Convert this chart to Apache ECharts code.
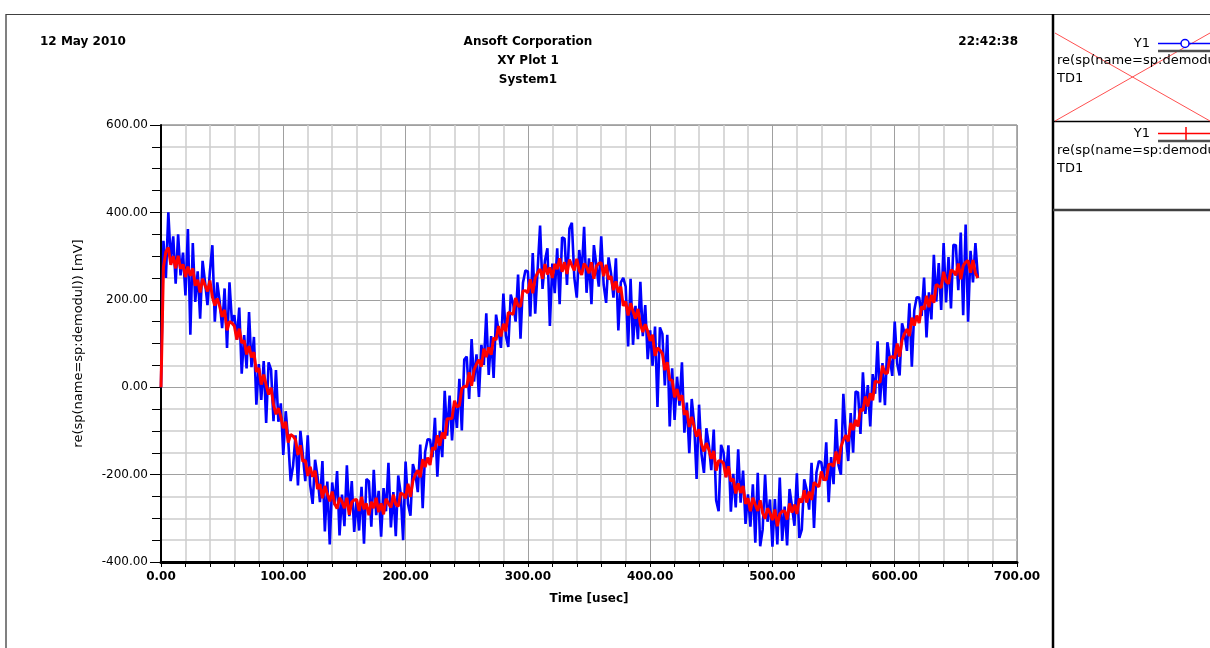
<!DOCTYPE html>
<html><head><meta charset="utf-8">
<script src="https://cdn.jsdelivr.net/npm/echarts@6/dist/echarts.min.js"></script>
<style>html,body{margin:0;padding:0;background:#fff;overflow:hidden}#c{width:1210px;height:648px}</style>
</head><body><div id="c"></div>
<script>
// ---- data (time step 2 usec) ----
const sampleStep = 2;
const blueValues = [
 0, 335, 250, 400, 290,
 345, 237, 350, 256, 308,
 210, 362, 120, 330, 195,
 265, 157, 289, 241, 188,
 265, 325, 150, 240, 196,
 135, 226, 90, 240, 150,
 165, 109, 182, 31, 119,
 43, 172, 46, 115, -40,
 53, -29, 60, -82, 57,
 40, -78, 39, -79, -37,
 -155, -55, -120, -215, -180,
 -110, -225, -100, -155, -215,
 -110, -224, -267, -166, -204,
 -263, -169, -330, -216, -360,
 -218, -270, -192, -339, -246,
 -318, -179, -295, -215, -331,
 -257, -328, -228, -358, -210,
 -215, -319, -189, -293, -237,
 -342, -231, -284, -173, -321,
 -240, -341, -202, -243, -350,
 -170, -267, -294, -176, -198,
 -240, -131, -277, -148, -119,
 -120, -160, -70, -205, -100,
 -160, -8, -111, -19, -122,
 -35, -93, 19, -99, 63,
 70, -27, 110, 13, 75,
 -22, 97, 51, 169, 28,
 117, 21, 166, 130, 90,
 214, 118, 92, 212, 191,
 150, 258, 111, 239, 267,
 265, 162, 307, 168, 269,
 370, 225, 290, 318, 140,
 283, 215, 318, 190, 343,
 340, 234, 363, 376, 250,
 205, 314, 258, 367, 216,
 295, 190, 325, 280, 230,
 345, 234, 193, 297, 261,
 205, 295, 130, 240, 250,
 230, 93, 248, 97, 186,
 110, 241, 117, 188, 64,
 130, 49, 139, -45, 137,
 122, 4, 120, -90, 43,
 -75, 24, -42, 57, -104,
 -35, -151, -27, -83, -210,
 -40, -153, -196, -94, -132,
 -190, -97, -259, -284, -132,
 -149, -206, -133, -285, -198,
 -275, -142, -264, -191, -313,
 -245, -319, -222, -356, -196,
 -364, -326, -200, -308, -257,
 -365, -256, -360, -207, -352,
 -273, -362, -233, -272, -317,
 -197, -345, -326, -211, -235,
 -280, -173, -322, -195, -169,
 -172, -214, -126, -263, -160,
 -222, -73, -178, -200, -15,
 -110, -169, -59, -150, -10,
 -12, -107, 34, -61, 5,
 -90, 30, -15, 105, -35,
 55, -41, 103, 67, 26,
 150, 54, 27, 146, 124,
 83, 192, 47, 176, 206,
 205, 163, 251, 114, 217,
 155, 303, 196, 284, 177,
 330, 194, 298, 180, 326,
 325, 222, 354, 165, 372,
 150, 312, 240, 330, 250
];
const redValues = [
 0, 275, 310, 320, 280,
 300, 272, 301, 271, 281,
 252, 276, 255, 272, 232,
 246, 217, 248, 233, 219,
 244, 207, 187, 203, 185,
 161, 177, 130, 150, 147,
 140, 109, 134, 101, 107,
 75, 94, 68, 80, 35,
 44, 6, 29, 5, -17,
 -1, -40, -62, -48, -68,
 -94, -79, -127, -108, -112,
 -120, -155, -133, -170, -167,
 -203, -182, -205, -191, -233,
 -222, -254, -226, -244, -261,
 -239, -267, -278, -253, -262,
 -277, -253, -292, -263, -258,
 -257, -283, -251, -279, -266,
 -293, -262, -277, -253, -286,
 -266, -291, -255, -266, -275,
 -246, -268, -273, -242, -245,
 -254, -221, -251, -214, -200,
 -190, -206, -165, -183, -161,
 -178, -138, -143, -110, -134,
 -104, -118, -72, -72, -71,
 -31, -45, -42, -3, 2,
 1, 34, 3, 40, 53,
 63, 47, 88, 69, 91,
 74, 113, 108, 140, 116,
 145, 128, 171, 169, 167,
 204, 186, 185, 220, 221,
 216, 247, 215, 250, 262,
 270, 248, 282, 258, 274,
 250, 282, 270, 295, 264,
 286, 259, 292, 279, 267,
 294, 267, 257, 283, 275,
 261, 286, 248, 277, 283,
 285, 254, 280, 247, 254,
 222, 242, 217, 230, 186,
 196, 164, 192, 174, 157,
 179, 144, 126, 144, 128,
 106, 120, 72, 90, 85,
 77, 39, 57, 17, 16,
 -23, -4, -30, -18, -63,
 -54, -91, -68, -91, -113,
 -96, -130, -147, -128, -143,
 -164, -146, -191, -168, -169,
 -174, -206, -181, -215, -210,
 -243, -220, -242, -226, -267,
 -254, -284, -253, -269, -283,
 -259, -288, -301, -277, -288,
 -304, -280, -318, -290, -284,
 -283, -303, -266, -287, -269,
 -290, -255, -264, -236, -264,
 -239, -258, -218, -223, -228,
 -193, -211, -212, -177, -176,
 -181, -147, -175, -137, -121,
 -110, -124, -82, -98, -75,
 -90, -50, -54, -21, -44,
 -14, -30, 14, 12, 11,
 49, 32, 32, 68, 70,
 66, 100, 70, 108, 122,
 133, 117, 159, 141, 164,
 147, 185, 178, 209, 183,
 211, 193, 235, 231, 228,
 264, 242, 237, 268, 265,
 256, 283, 247, 278, 286,
 290, 262, 291, 261, 250
];
const xTickValues = [0, 100, 200, 300, 400, 500, 600, 700];
const yTickValues = [-400, -200, 0, 200, 400, 600];
const headerLeft = '12 May 2010';
const headerCenter = ['Ansoft Corporation', 'XY Plot 1', 'System1'];
const headerRight = '22:42:38';
const xAxisName = 'Time [usec]';
const yAxisName = 're(sp(name=sp:demodul)) [mV]';
const legendTraceName = 'Y1';
const legendExpr = 're(sp(name=sp:demodul))';
const legendSolution = 'TD1';

// ---- build ----
const toPairs = vals => vals.map((v, i) => [i * sampleStep, v]);
const chart = echarts.init(document.getElementById('c'), null, {renderer: 'canvas'});
const F = 'DejaVu Sans';
const txt = (x, y, text, font, align) => ({
  type: 'text', x: x, y: y, silent: true,
  style: {text: text, font: font, fill: '#000', align: align || 'left', verticalAlign: 'middle'}
});
const ln = (x1, y1, x2, y2, stroke, w) => ({
  type: 'line', silent: true, shape: {x1: x1, y1: y1, x2: x2, y2: y2},
  style: {stroke: stroke, lineWidth: w}
});

const option = {
  animation: false,
  backgroundColor: '#ffffff',
  grid: {left: 161, right: 193, top: 125, bottom: 86, show: true, borderColor: '#606060', borderWidth: 1, backgroundColor: 'transparent'},
  xAxis: {
    type: 'value', min: xTickValues[0], max: xTickValues[xTickValues.length - 1], interval: 100,
    name: xAxisName, nameLocation: 'middle', nameGap: 31,
    nameTextStyle: {fontFamily: F, fontWeight: 'bold', fontSize: 12, color: '#000'},
    axisLine: {show: true, onZero: false, lineStyle: {color: '#000', width: 3}},
    axisTick: {show: true, length: 5, lineStyle: {color: '#000', width: 1}},
    minorTick: {show: true, splitNumber: 5, length: 5, lineStyle: {color: '#000', width: 1}},
    splitLine: {show: true, lineStyle: {color: '#a0a0a0', width: 1}},
    minorSplitLine: {show: true, lineStyle: {color: '#cdcdcd', width: 1.5}},
    axisLabel: {margin: 9, fontFamily: F, fontWeight: 'bold', fontSize: 12, color: '#000', formatter: v => v.toFixed(2)}
  },
  yAxis: {
    type: 'value', min: yTickValues[0], max: yTickValues[yTickValues.length - 1], interval: 200,
    name: yAxisName, nameLocation: 'middle', nameGap: 76, nameRotate: 90,
    nameTextStyle: {fontFamily: F, fontSize: 13, color: '#000'},
    axisLine: {show: true, onZero: false, lineStyle: {color: '#000', width: 2}},
    axisTick: {show: true, length: 11, lineStyle: {color: '#000', width: 1}},
    minorTick: {show: true, splitNumber: 4, length: 9, lineStyle: {color: '#000', width: 1}},
    splitLine: {show: true, lineStyle: {color: '#a0a0a0', width: 1}},
    minorSplitLine: {show: true, lineStyle: {color: '#cdcdcd', width: 1.5}},
    axisLabel: {margin: 13, fontFamily: F, fontSize: 12, color: '#000', formatter: v => v.toFixed(2)}
  },
  series: [
    {type: 'line', name: 'blue', data: toPairs(blueValues), showSymbol: false, symbol: 'none', sampling: null,
     lineStyle: {color: '#0000ff', width: 2.6}, z: 2},
    {type: 'line', name: 'red', data: toPairs(redValues), showSymbol: false, symbol: 'none', sampling: null,
     lineStyle: {color: '#ff0000', width: 3}, z: 3}
  ],
  graphic: [
    ln(6, 14, 6, 648, '#808080', 2),
    ln(6, 14.5, 1210, 14.5, '#404040', 1),
    ln(1053, 14, 1053, 648, '#000', 2.5),
    ln(1053, 121.5, 1210, 121.5, '#000', 1.5),
    ln(1053, 210, 1210, 210, '#404040', 2.5),
    ln(1055, 33, 1210, 121, '#ff5050', 1),
    ln(1055, 121, 1210, 33, '#ff5050', 1),
    txt(40, 42, headerLeft, 'bold 12px ' + F),
    txt(528, 42, headerCenter[0], 'bold 12px ' + F, 'center'),
    txt(528, 61, headerCenter[1], 'bold 12px ' + F, 'center'),
    txt(528, 80, headerCenter[2], 'bold 12px ' + F, 'center'),
    txt(1018, 42, headerRight, 'bold 12px ' + F, 'right'),
    // legend entry 1
    txt(1150, 44, legendTraceName, '13px ' + F, 'right'),
    ln(1158, 43.5, 1210, 43.5, '#0000ff', 1.5),
    {type: 'circle', silent: true, shape: {cx: 1185, cy: 43.5, r: 4}, style: {fill: '#fff', stroke: '#0000ff', lineWidth: 1.5}},
    ln(1158, 51, 1210, 51, '#505050', 2.5),
    txt(1057, 61, legendExpr, '13px ' + F),
    txt(1057, 79, legendSolution, '13px ' + F),
    // legend entry 2
    txt(1150, 134, legendTraceName, '13px ' + F, 'right'),
    ln(1158, 133.5, 1210, 133.5, '#ff0000', 1.5),
    ln(1186, 127, 1186, 140, '#ff0000', 1.5),
    ln(1158, 141, 1210, 141, '#505050', 2.5),
    txt(1057, 151, legendExpr, '13px ' + F),
    txt(1057, 169, legendSolution, '13px ' + F)
  ]
};
chart.setOption(option);
</script>
</body></html>
